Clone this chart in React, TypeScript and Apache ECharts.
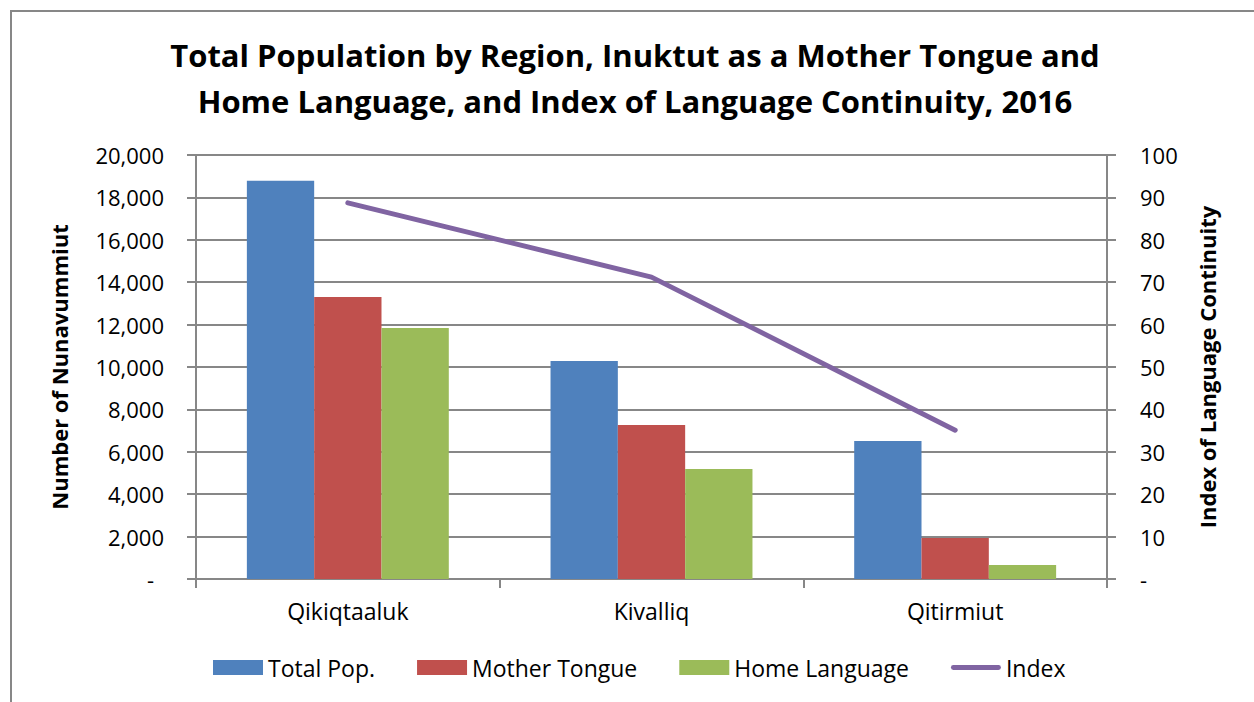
import React, { useEffect, useRef } from "react";
import * as echarts from "echarts";

const categories = ["Qikiqtaaluk", "Kivalliq", "Qitirmiut"];
const totalPop = [18780, 10280, 6510];
const motherTongue = [13300, 7260, 1930];
const homeLanguage = [11840, 5190, 660];
const indexValues = [88.7, 71.2, 35.1];
const leftTicks = { min: 0, max: 20000, interval: 2000 };
const rightTicks = { min: 0, max: 100, interval: 10 };

const FONT = "Open Sans";
const GRID = "#878787";

export default function App() {
  const ref = useRef<HTMLDivElement>(null);
  useEffect(() => {
    document.body.style.margin = "0";
    const chart = echarts.init(ref.current!, null, { renderer: "svg" });
    chart.setOption({
      animation: false,
      backgroundColor: "#ffffff",
      textStyle: { fontFamily: FONT },
      graphic: [
        {
          type: "rect",
          shape: { x: 11, y: 11, width: 1400, height: 900 },
          style: { fill: "none", stroke: "#878787", lineWidth: 2 },
          silent: true,
        },
      ],
      title: {
        text: "Total Population by Region, Inuktut as a Mother Tongue and\nHome Language, and Index of Language Continuity, 2016",
        left: 630,
        textAlign: "center",
        top: 27,
        textStyle: {
          fontFamily: FONT,
          fontWeight: "bold",
          fontSize: 31,
          lineHeight: 46,
          color: "#000",
        },
      },
      legend: {
        bottom: 18,
        left: 208,
        itemWidth: 50,
        itemHeight: 15,
        itemGap: 42,
        textStyle: { fontFamily: FONT, fontSize: 23, color: "#000" },
        data: [
          { name: "Total Pop.", icon: "rect" },
          { name: "Mother Tongue", icon: "rect" },
          { name: "Home Language", icon: "rect" },
          { name: "Index", icon: "path://M2,0 L48,0 A2.5,2.5 0 0 1 48,5 L2,5 A2.5,2.5 0 0 1 2,0 Z" },
        ],
      },
      grid: { left: 196, right: 147, top: 155, bottom: 123 },
      xAxis: {
        type: "category",
        data: categories,
        axisLine: { lineStyle: { color: GRID, width: 2 } },
        axisTick: { show: true, length: 9, lineStyle: { color: GRID, width: 2 } },
        axisLabel: { fontFamily: FONT, fontSize: 23, color: "#000", margin: 20 },
      },
      yAxis: [
        {
          type: "value",
          min: leftTicks.min,
          max: leftTicks.max,
          interval: leftTicks.interval,
          name: "Number of Nunavummiut",
          nameLocation: "middle",
          nameGap: 126,
          nameRotate: 90,
          nameTextStyle: { fontFamily: FONT, fontWeight: "bold", fontSize: 22, color: "#000" },
          axisLine: { show: true, lineStyle: { color: GRID, width: 2 } },
          axisTick: { show: true, length: 9, lineStyle: { color: GRID, width: 2 } },
          splitLine: { show: true, lineStyle: { color: GRID, width: 2 } },
          axisLabel: {
            fontFamily: FONT,
            fontSize: 22,
            color: "#000",
            margin: 32,
            formatter: (v: number) => (v === 0 ? "{d|-}" : v.toLocaleString("en-US")),
            rich: { d: { fontFamily: FONT, fontSize: 22, color: "#000", padding: [0, 10, 0, 0] } },
          },
        },
        {
          type: "value",
          position: "right",
          min: rightTicks.min,
          max: rightTicks.max,
          interval: rightTicks.interval,
          name: "Index of Language Continuity",
          nameLocation: "middle",
          nameGap: 89,
          nameRotate: 90,
          nameTextStyle: { fontFamily: FONT, fontWeight: "bold", fontSize: 22, color: "#000" },
          axisLine: { show: true, lineStyle: { color: GRID, width: 2 } },
          axisTick: { show: true, length: 9, lineStyle: { color: GRID, width: 2 } },
          splitLine: { show: false },
          axisLabel: {
            fontFamily: FONT,
            fontSize: 22,
            color: "#000",
            margin: 33,
            formatter: (v: number) => (v === 0 ? "-" : String(v)),
          },
        },
      ],
      series: [
        {
          name: "Total Pop.",
          type: "bar",
          data: totalPop,
          barGap: "0%",
          barCategoryGap: "33.5%",
          itemStyle: { color: "#4F81BD" },
        },
        {
          name: "Mother Tongue",
          type: "bar",
          data: motherTongue,
          barGap: "0%",
          barCategoryGap: "33.5%",
          itemStyle: { color: "#C0504D" },
        },
        {
          name: "Home Language",
          type: "bar",
          data: homeLanguage,
          barGap: "0%",
          barCategoryGap: "33.5%",
          itemStyle: { color: "#9BBB59" },
        },
        {
          name: "Index",
          type: "line",
          yAxisIndex: 1,
          data: indexValues,
          symbol: "none",
          lineStyle: { color: "#8064A2", width: 5, cap: "round", join: "round" },
          itemStyle: { color: "#8064A2" },
        },
      ],
    });
    return () => chart.dispose();
  }, []);
  return <div ref={ref} style={{ width: 1254, height: 702 }} />;
}
